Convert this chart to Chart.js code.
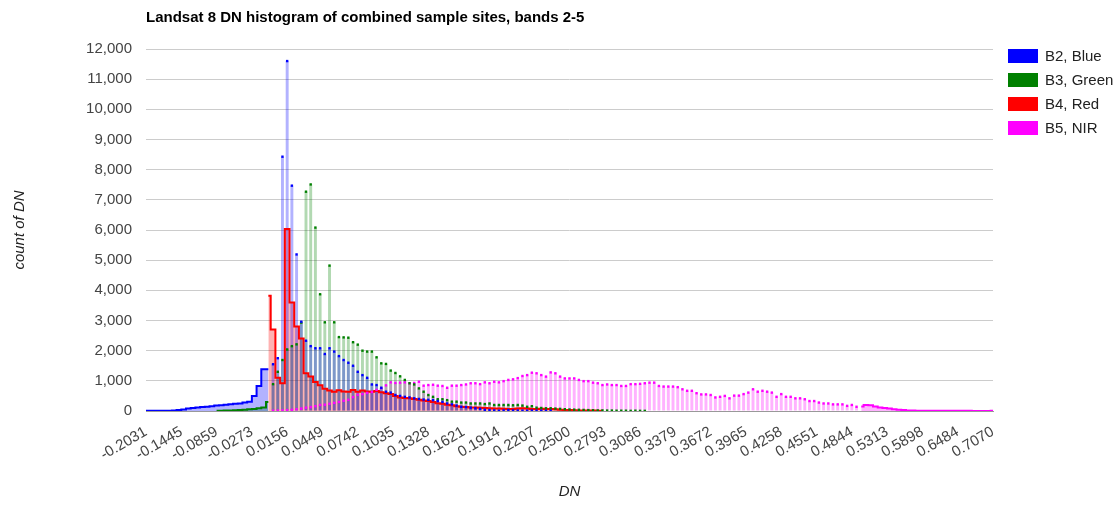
<!DOCTYPE html>
<html>
<head>
<meta charset="utf-8">
<title>Landsat 8 DN histogram</title>
<script src="https://cdn.jsdelivr.net/npm/chart.js@4.4.1/dist/chart.umd.min.js"></script>
<style>
  html, body { margin: 0; padding: 0; background: #fff; }
  #wrap { position: relative; width: 1119px; height: 508px; font-family: Arial, "Liberation Sans", sans-serif; }
  #chart { position: absolute; left: 0; top: 0; }
  .title { position: absolute; left: 146px; top: 8px; font-size: 15px; line-height: 17px; font-weight: bold; color: #000; white-space: nowrap; }
  .legend { position: absolute; left: 1008px; top: 49px; }
  .legend-item { position: relative; height: 24px; font-size: 15px; color: #222; white-space: nowrap; }
  .legend-item span { position: absolute; left: 0; top: 0; width: 30px; height: 14px; }
  .legend-item div { position: absolute; left: 37px; top: -2px; line-height: 17px; }
</style>
</head>
<body>
<div id="wrap">
  <canvas id="chart" width="1119" height="508"></canvas>
  <div class="title">Landsat 8 DN histogram of combined sample sites, bands 2-5</div>
  <div class="legend" id="legend"></div>
</div>
<script>
// x axis: labelled DN ticks, 15 bins between each labelled tick
const tickLabels = ['-0.2031', '-0.1445', '-0.0859', '-0.0273', '0.0156', '0.0449', '0.0742',
  '0.1035', '0.1328', '0.1621', '0.1914', '0.2207', '0.2500', '0.2793', '0.3086', '0.3379',
  '0.3672', '0.3965', '0.4258', '0.4551', '0.4844', '0.5313', '0.5898', '0.6484', '0.7070'];
const binsPerTick = 15;
const binStep = 2; // values below sit on every second bin

// continuous (stepped area) parts
const b2AreaStart = 0;
const b2Area = [10, 10, 10, 10, 10, 10, 15, 30, 50, 80, 100, 120, 130, 140, 160, 180, 190, 210,
  220, 240, 250, 280, 310, 500, 830, 1380, 1380];
const b3AreaStart = 30;
const b3Area = [5, 10, 15, 20, 25, 30, 40, 55, 65, 90, 120, 300];
const b4AreaStart = 52;
const b4Area = [3820, 2700, 1100, 920, 6030, 3600, 2800, 2400, 1250, 1140,
  960, 850, 740, 680, 640, 690, 650, 640, 700, 640,
  680, 650, 640, 660, 620, 590, 560, 500, 450, 430,
  420, 400, 370, 350, 330, 300, 260, 240, 210, 190,
  160, 140, 130, 120, 115, 110, 100, 90, 85, 80,
  75, 70, 70, 80, 90, 80, 70, 70, 75, 70,
  65, 55, 45, 35, 30, 25, 20, 20, 15, 15, 12, 10];
const b5AreaStart = 304;
const b5Area = [150, 200, 190, 150, 120, 100, 80, 60, 40, 30, 20, 15, 12, 10, 10, 8, 8, 6, 6, 5,
  5, 5, 8, 5, 3, 3, 2, 2, 10];

// isolated bins (drawn as thin bars with a dot)
const barStart = 54;
const b2Bars = [1550, 1750, 8430, 11600, 7470, 5190, 2960, 2330, 2150, 2080,
  2080, 1890, 2080, 1970, 1820, 1690, 1600, 1500, 1300, 1190,
  1100, 880, 860, 770, 640, 610, 530, 500, 470, 450,
  420, 400, 380, 370, 360, 330, 300, 250, 220, 180,
  140, 130, 110, 90, 70, 40, 30, 20, 10, 20,
  30, 20, 15, 10, 10, 15, 10, 10, 5, 10];
const b3Bars = [890, 1300, 1690, 2040, 2150, 2210, 2930, 7270, 7510, 6080,
  3870, 2940, 4820, 2940, 2450, 2440, 2430, 2280, 2200, 2000,
  1970, 1970, 1780, 1580, 1560, 1340, 1260, 1150, 1030, 920,
  880, 750, 640, 530, 470, 390, 390, 360, 310, 310,
  280, 280, 250, 250, 250, 230, 250, 200, 200, 200,
  200, 190, 200, 180, 140, 160, 110, 100, 90, 90,
  80, 70, 60, 50, 45, 40, 35, 30, 25, 20,
  20, 15, 15, 10, 10, 10, 5, 10, 5, 5];
const b5Bars = [10, 15, 20, 30, 40, 60, 80, 110, 130, 160,
  200, 210, 240, 270, 300, 340, 370, 460, 540, 560,
  600, 630, 700, 760, 850, 950, 930, 940, 950, 920,
  930, 970, 840, 860, 870, 840, 830, 770, 840, 840,
  860, 880, 920, 920, 890, 950, 920, 970, 950, 990,
  1030, 1050, 1090, 1160, 1190, 1270, 1250, 1190, 1140, 1280,
  1250, 1140, 1080, 1080, 1080, 1030, 990, 990, 940, 920,
  860, 880, 860, 860, 830, 830, 890, 890, 900, 920,
  940, 940, 830, 810, 810, 810, 790, 720, 670, 670,
  590, 550, 550, 530, 450, 470, 500, 420, 510, 510,
  560, 610, 720, 640, 670, 640, 610, 470, 560, 470,
  470, 420, 420, 390, 330, 330, 280, 250, 250, 220,
  220, 220, 170, 200, 140];

const bands = [
  { label: 'B2, Blue', color: '#0000ff', fill: 'rgba(0,0,255,0.3)', areaStart: b2AreaStart, area: b2Area, bars: b2Bars },
  { label: 'B3, Green', color: '#008000', fill: 'rgba(0,128,0,0.3)', areaStart: b3AreaStart, area: b3Area, bars: b3Bars },
  { label: 'B4, Red', color: '#ff0000', fill: 'rgba(255,0,0,0.3)', areaStart: b4AreaStart, area: b4Area, bars: [] },
  { label: 'B5, NIR', color: '#ff00ff', fill: 'rgba(255,0,255,0.3)', areaStart: b5AreaStart, area: b5Area, bars: b5Bars }
];

const binCount = (tickLabels.length - 1) * binsPerTick + 1;
const categories = Array.from({ length: binCount }, (_, i) =>
  i % binsPerTick === 0 ? tickLabels[i / binsPerTick] : '');

// place values on the bins they belong to, null elsewhere
function toBins(start, values) {
  const out = new Array(binCount).fill(null);
  values.forEach((v, k) => { out[start + k * binStep] = v; });
  return out;
}

const datasets = [];
bands.forEach((b, i) => {
  datasets.push({
    type: 'line',
    label: b.label,
    data: toBins(b.areaStart, b.area),
    borderColor: b.color,
    backgroundColor: b.fill,
    borderWidth: 2,
    stepped: 'middle',
    fill: 'origin',
    spanGaps: true,
    pointRadius: 0,
    order: i === 2 ? 2 : 3
  });
  if (b.bars.length) {
    const barData = toBins(barStart, b.bars);
    datasets.push({
      type: 'bar',
      label: b.label + ' bins',
      data: barData,
      backgroundColor: b.fill,
      borderWidth: 0,
      grouped: false,
      barPercentage: 1.25,
      categoryPercentage: 1,
      order: 5
    });
    datasets.push({
      type: 'line',
      label: b.label + ' points',
      data: barData,
      showLine: false,
      pointStyle: 'rect',
      pointRadius: 1.7,
      pointBorderWidth: 0,
      pointBackgroundColor: b.color,
      order: 1
    });
  }
});

const font = 'Arial, "Liberation Sans", sans-serif';

new Chart(document.getElementById('chart'), {
  type: 'bar',
  data: { labels: categories, datasets: datasets },
  options: {
    responsive: false,
    animation: false,
    layout: { padding: { top: 49, right: 126, left: 0, bottom: 0 } },
    plugins: {
      legend: { display: false },
      tooltip: { enabled: false },
      filler: { drawTime: 'beforeDatasetsDraw' }
    },
    scales: {
      x: {
        type: 'category',
        offset: false,
        grid: { display: false },
        border: { display: true, color: '#999' },
        ticks: {
          autoSkip: false,
          minRotation: 30,
          maxRotation: 30,
          padding: 4,
          color: '#444',
          font: { family: font, size: 15 },
          callback: (v, i) => categories[i] || null
        },
        title: {
          display: true,
          text: 'DN',
          color: '#222',
          font: { family: font, size: 15, style: 'italic' },
          padding: { top: 4, bottom: 7 }
        },
        afterFit: (scale) => { scale.height = 97; }
      },
      y: {
        min: 0,
        max: 12000,
        border: { display: false },
        grid: {
          drawTicks: false,
          color: (ctx) => ctx.tick.value === 0 ? '#999' : (ctx.tick.value % 1000 === 0 ? '#cccccc' : '#ebebeb')
        },
        ticks: {
          stepSize: 500,
          padding: 14,
          color: '#444',
          font: { family: font, size: 15 },
          callback: (v) => v % 1000 === 0 ? v.toLocaleString('en-US') : ''
        },
        title: {
          display: true,
          text: 'count of DN',
          color: '#222',
          font: { family: font, size: 15, style: 'italic' },
          padding: { top: 11, bottom: 4 }
        },
        afterFit: (scale) => { scale.width = 146; }
      }
    }
  }
});

// legend
const legend = document.getElementById('legend');
bands.forEach((b) => {
  const item = document.createElement('div');
  item.className = 'legend-item';
  item.innerHTML = '<span style="background:' + b.color + '"></span><div>' + b.label + '</div>';
  legend.appendChild(item);
});
</script>
</body>
</html>
